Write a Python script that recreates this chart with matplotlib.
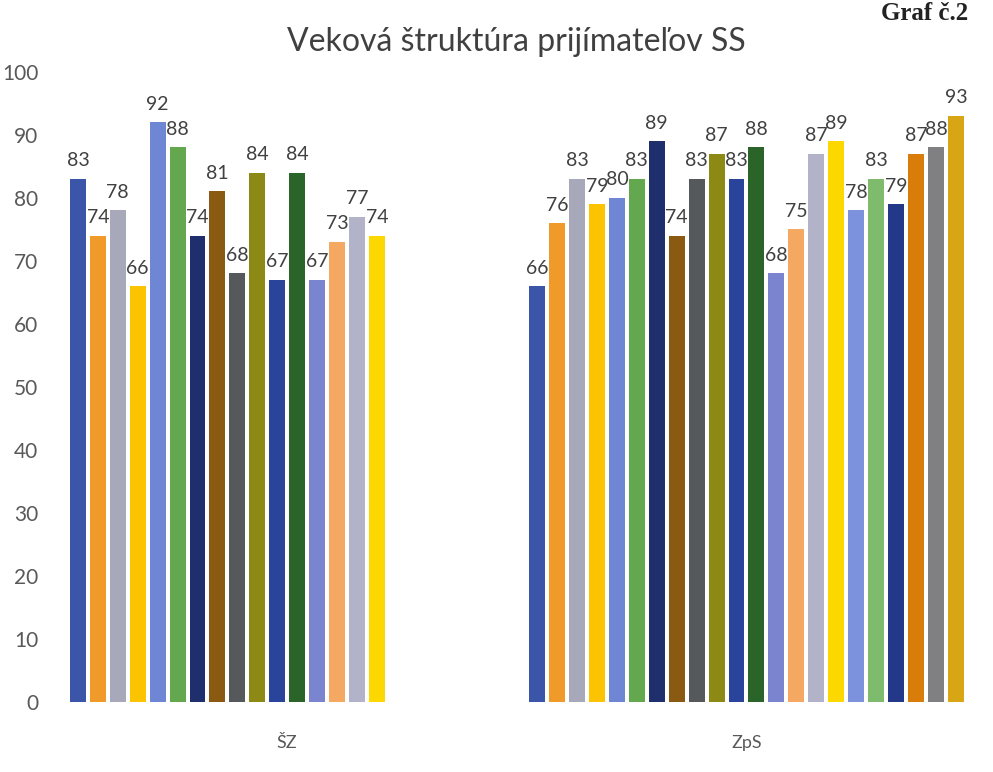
import numpy as np
import matplotlib.pyplot as plt

plt.rcParams['font.family'] = ['Lato', 'DejaVu Sans']

categories = ['ŠZ', 'ZpS']
# one series per bar colour; ŠZ has only the first 16 series
sz_values = [83, 74, 78, 66, 92, 88, 74, 81, 68, 84, 67, 84, 67, 73, 77, 74]
zps_values = [66, 76, 83, 79, 80, 83, 89, 74, 83, 87, 83, 88,
              68, 75, 87, 89, 78, 83, 79, 87, 88, 93]
colors = ['#3b56a8', '#f09a2a', '#a7a9ba', '#fcc400', '#6f86d4', '#63a84f',
          '#1f2f6e', '#8a5a12', '#55595b', '#8c8a14', '#2a449c', '#2b6428',
          '#7a84cf', '#f4a862', '#b2b3c9', '#fcd800', '#7d92dc', '#7fbb6c',
          '#24388a', '#d97d0a', '#808082', '#d8a514']

n_series = len(zps_values)
fig = plt.figure(figsize=(9.93, 7.72), dpi=100)
ax = fig.add_axes([0.058, 0.091, 0.925, 0.816])

x = np.arange(len(categories))
group_w = 0.955
slot = group_w / n_series
bar_w = slot * 0.8

for i in range(n_series):
    vals = [sz_values[i] if i < len(sz_values) else np.nan, zps_values[i]]
    pos = x - group_w / 2 + slot * (i + 0.5)
    ax.bar(pos, vals, width=bar_w, color=colors[i])
    for xp, v in zip(pos, vals):
        if not np.isnan(v):
            ax.text(xp, v + 1.5, str(v), ha='center', va='bottom',
                    fontsize=14, color='#404040')

ax.set_xlim(-0.5, 1.5)
ax.set_ylim(0, 100)
ax.set_yticks(range(0, 101, 10))
ax.set_xticks(x)
ax.set_xticklabels(categories)
ax.tick_params(axis='y', length=0, labelsize=15, labelcolor='#595959', pad=14)
ax.tick_params(axis='x', length=0, labelsize=13, labelcolor='#595959', pad=24)
for s in ax.spines.values():
    s.set_visible(False)

fig.text(0.52, 0.945, 'Veková štruktúra prijímateľov SS', ha='center',
         va='center', fontsize=23, color='#404040')
fig.text(0.975, 0.998, 'Graf č.2', ha='right', va='top', fontsize=18,
         fontweight='bold', family='Liberation Serif', color='#222222')

fig.savefig('out.png', dpi=100)
